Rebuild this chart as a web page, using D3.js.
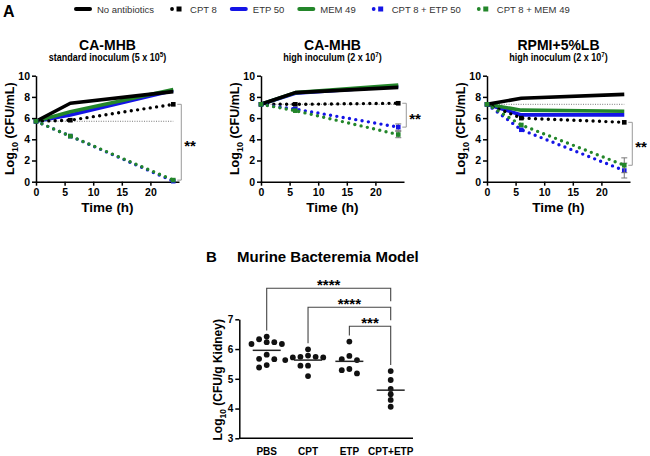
<!DOCTYPE html>
<html>
<head>
<meta charset="utf-8">
<script src="https://cdn.jsdelivr.net/npm/d3@7"></script>
<style>
  body { margin: 0; background: #fff; }
  svg { font-family: "Liberation Sans", Arial, Helvetica, sans-serif; }
</style>
</head>
<body>
<div id="chart"></div>
<script>
// ---------- data ----------
var seriesNames = ["No antibiotics", "CPT 8", "ETP 50", "MEM 49", "CPT 8 + ETP 50", "CPT 8 + MEM 49"];
var seriesColors = ["#000000", "#000000", "#1414e6", "#23862a", "#1414e6", "#23862a"];
var seriesDotted = [false, true, false, false, true, true];
var drawOrder = [2, 3, 0, 1, 4, 5];
var times = [0, 6, 24];
var timeTicks = [0, 5, 10, 15, 20];
var logTicks = [0, 2, 4, 6, 8, 10];

var panelTitles = ["CA-MHB", "CA-MHB", "RPMI+5%LB"];
var inoculumText = ["standard inoculum (5 x 10", "high inoculum (2 x 10", "high inoculum (2 x 10"];
var inoculumExp = ["5", "7", "7"];
var startLevels = [5.7, 7.3, 7.3];

// rows follow seriesNames, columns follow times
var mhbStdValues = [
  [5.7, 7.4, 8.5],
  [5.7, 5.8, 7.3],
  [5.7, 6.3, 8.6],
  [5.7, 6.6, 8.7],
  [5.7, 4.3, 0.05],
  [5.7, 4.3, 0.15]
];
var mhbHighValues = [
  [7.3, 8.4, 8.9],
  [7.3, 7.3, 7.4],
  [7.3, 8.35, 9.0],
  [7.3, 8.4, 9.12],
  [7.3, 6.85, 5.15],
  [7.3, 6.7, 4.45]
];
var rpmiValues = [
  [7.3, 7.87, 8.24],
  [7.3, 6.0, 5.6],
  [7.3, 6.3, 6.3],
  [7.3, 6.75, 6.65],
  [7.3, 4.9, 1.05],
  [7.3, 5.35, 1.55]
];
// SD at 24 h, one per series
var mhbStdErr = [0, 0, 0, 0, 0, 0];
var mhbHighErr = [0, 0, 0, 0, 0.3, 0.3];
var rpmiErr = [0, 0, 0, 0, 0.7, 0.7];
// significance bracket: [upper series, lower series]
var bracketPairs = [[1, 5], [1, 4], [1, 5]];
var bracketLabels = ["**", "**", "**"];

// panel B
var groups = ["PBS", "CPT", "ETP", "CPT+ETP"];
var pbsValues = [6.42, 6.33, 6.17, 6.17, 6.23, 6.23, 5.81, 5.66, 5.67, 5.38, 5.46];
var cptValues = [5.99, 5.74, 5.72, 5.72, 5.74, 5.78, 5.63, 5.44, 5.44, 5.09];
var etpValues = [6.25, 5.66, 5.63, 5.77, 5.18, 5.33, 5.29];
var cptEtpValues = [5.26, 4.96, 4.66, 4.48, 4.29, 4.06];
var kidneyTicks = [3, 4, 5, 6, 7];
var compFrom = ["PBS", "CPT", "ETP"];
var compTo = ["CPT+ETP", "CPT+ETP", "CPT+ETP"];
var compLabels = ["****", "****", "***"];

var panelValues = [mhbStdValues, mhbHighValues, rpmiValues];
var panelErrors = [mhbStdErr, mhbHighErr, rpmiErr];
var groupValues = [pbsValues, cptValues, etpValues, cptEtpValues];

// ---------- layout ----------
var svg = d3.select("#chart")
    .append("svg")
    .attr("width", 650)
    .attr("height", 456);

var panelLeft = [36, 261, 487];
var plotW = 143, plotTop = 75.7, plotBottom = 181.7;

function styleAxis(g, size) {
    g.select(".domain").attr("stroke", "#000").attr("stroke-width", 1.5);
    g.selectAll(".tick line").attr("stroke", "#000").attr("stroke-width", 1.5);
    g.selectAll(".tick text")
        .attr("font-size", size)
        .attr("font-weight", "bold")
        .attr("fill", "#000")
        .attr("font-family", null);
}

// panel letter A
svg.append("text").attr("x", 3).attr("y", 17)
    .attr("font-size", 16).attr("font-weight", "bold").text("A");

// legend
var legend = svg.append("g");
var cursor = 75;
seriesNames.forEach(function (name, i) {
    var item = legend.append("g").attr("transform", "translate(" + cursor + ",9)");
    if (seriesDotted[i]) {
        item.append("circle").attr("cx", 4).attr("cy", 0).attr("r", 1.9).attr("fill", seriesColors[i]);
        item.append("rect").attr("x", 8.5).attr("y", -2.5).attr("width", 5).attr("height", 5).attr("fill", seriesColors[i]);
    } else {
        item.append("line").attr("x1", 1).attr("x2", 15).attr("y1", 0).attr("y2", 0)
            .attr("stroke", seriesColors[i]).attr("stroke-width", 4).attr("stroke-linecap", "round");
    }
    var t = item.append("text").attr("x", 22).attr("y", 3.5)
        .attr("font-size", 9.5).attr("fill", "#333").text(name);
    cursor += 22 + t.node().getComputedTextLength() + 14;
});

// time-kill panels
panelLeft.forEach(function (left, p) {
    var x = d3.scaleLinear().domain([0, 25]).range([left, left + plotW]);
    var y = d3.scaleLinear().domain([0, 10]).range([plotBottom, plotTop]);
    var g = svg.append("g");
    var cx = left + plotW / 2;

    g.append("text").attr("x", cx).attr("y", 50)
        .attr("text-anchor", "middle").attr("font-size", 14).attr("font-weight", "bold")
        .text(panelTitles[p]);
    var sub = g.append("text")
        .attr("transform", "translate(" + cx + ",61) scale(0.9,1)")
        .attr("text-anchor", "middle").attr("font-size", 10).attr("font-weight", "bold");
    sub.append("tspan").text(inoculumText[p]);
    sub.append("tspan").attr("dy", -4).attr("font-size", 7).text(inoculumExp[p]);
    sub.append("tspan").attr("dy", 4).text(")");

    var xAxis = g.append("g").attr("transform", "translate(0," + plotBottom + ")")
        .call(d3.axisBottom(x).tickValues(timeTicks).tickSize(4).tickSizeOuter(0).tickPadding(3));
    styleAxis(xAxis, 10.5);
    var yAxis = g.append("g").attr("transform", "translate(" + left + ",0)")
        .call(d3.axisLeft(y).tickValues(logTicks).tickSize(4).tickSizeOuter(0).tickPadding(2));
    styleAxis(yAxis, 10.5);

    g.append("text").attr("x", cx).attr("y", 212)
        .attr("text-anchor", "middle").attr("font-size", 13.5).attr("font-weight", "bold")
        .text("Time (h)");
    var yl = g.append("text")
        .attr("transform", "translate(" + (left - 22) + "," + ((plotTop + plotBottom) / 2) + ") rotate(-90)")
        .attr("text-anchor", "middle").attr("font-size", 12.5).attr("font-weight", "bold");
    yl.append("tspan").text("Log");
    yl.append("tspan").attr("dy", 4).attr("font-size", 9).text("10");
    yl.append("tspan").attr("dy", -4).text(" (CFU/mL)");

    // starting inoculum reference
    g.append("line")
        .attr("x1", x(0)).attr("x2", x(24))
        .attr("y1", y(startLevels[p])).attr("y2", y(startLevels[p]))
        .attr("stroke", "#555").attr("stroke-width", 0.8).attr("stroke-dasharray", "1,1.4");

    var line = d3.line()
        .x(function (d, i) { return x(times[i]); })
        .y(function (d) { return y(d); });

    var vals = panelValues[p];
    var errs = panelErrors[p];
    drawOrder.forEach(function (s) {
        var col = seriesColors[s];
        if (errs[s] > 0) {
            var v = vals[s][times.length - 1], tx = x(times[times.length - 1]);
            g.append("line").attr("x1", tx).attr("x2", tx)
                .attr("y1", y(v - errs[s])).attr("y2", y(v + errs[s]))
                .attr("stroke", "#777").attr("stroke-width", 1);
            [v - errs[s], v + errs[s]].forEach(function (e) {
                g.append("line").attr("x1", tx - 3).attr("x2", tx + 3)
                    .attr("y1", y(e)).attr("y2", y(e))
                    .attr("stroke", "#777").attr("stroke-width", 1);
            });
        }
        var path = g.append("path")
            .datum(vals[s])
            .attr("d", line)
            .attr("fill", "none")
            .attr("stroke", col);
        if (seriesDotted[s]) {
            path.attr("stroke-width", 3.4).attr("stroke-linecap", "round").attr("stroke-dasharray", "0,6.4");
            // square markers only show on the dotted series
            g.selectAll(null)
                .data(vals[s])
                .enter().append("rect")
                .attr("x", function (d, i) { return x(times[i]) - 2.3; })
                .attr("y", function (d) { return y(d) - 2.3; })
                .attr("width", 4.6).attr("height", 4.6)
                .attr("fill", col);
        } else {
            path.attr("stroke-width", 3.6).attr("stroke-linejoin", "round");
        }
    });

    // significance bracket
    var last = times.length - 1;
    var top = vals[bracketPairs[p][0]][last], bottom = vals[bracketPairs[p][1]][last];
    var bx = x(25.4), ex = x(24) + 4;
    g.append("path")
        .attr("d", "M" + ex + "," + y(top) + "H" + bx + "V" + y(bottom) + "H" + ex)
        .attr("fill", "none").attr("stroke", "#999").attr("stroke-width", 1);
    g.append("text").attr("x", bx + 3).attr("y", (y(top) + y(bottom)) / 2 + 8.5)
        .attr("font-size", 15).attr("font-weight", "bold").text(bracketLabels[p]);
});

// ---------- panel B ----------
var bx0 = 239.3, bx1 = 413, byTop = 319.3, byBottom = 438.3;
var gx = d3.scalePoint().domain(groups).range([266.7, 390.7]);
var gy = d3.scaleLinear().domain([3, 7]).range([byBottom, byTop]);
var gB = svg.append("g");

gB.append("text").attr("x", 206).attr("y", 262)
    .attr("font-size", 15).attr("font-weight", "bold").text("B");
gB.append("text").attr("x", 237).attr("y", 262)
    .attr("font-size", 15).attr("font-weight", "bold").text("Murine Bacteremia Model");

var kyAxis = gB.append("g").attr("transform", "translate(" + bx0 + ",0)")
    .call(d3.axisLeft(gy).tickValues(kidneyTicks).tickFormat(d3.format("d"))
        .tickSize(4).tickSizeOuter(0).tickPadding(2));
styleAxis(kyAxis, 10);
gB.append("line").attr("x1", bx0).attr("x2", bx1).attr("y1", byBottom).attr("y2", byBottom)
    .attr("stroke", "#000").attr("stroke-width", 1.5);
gB.selectAll(null).data(groups).enter().append("text")
    .attr("x", function (d) { return gx(d); })
    .attr("y", 455)
    .attr("text-anchor", "middle").attr("font-size", 10).attr("font-weight", "bold")
    .text(function (d) { return d; });

var kl = gB.append("text")
    .attr("transform", "translate(222," + ((byTop + byBottom) / 2 + 1) + ") rotate(-90)")
    .attr("text-anchor", "middle").attr("font-size", 12).attr("font-weight", "bold");
kl.append("tspan").text("Log");
kl.append("tspan").attr("dy", 4).attr("font-size", 8.5).text("10");
kl.append("tspan").attr("dy", -4).text(" (CFU/g Kidney)");

// simple beeswarm placement
function swarm(values, cx) {
    var step = 7.6, minD = 5.2, placed = [];
    values.slice().sort(function (a, b) { return b - a; }).forEach(function (v) {
        var yy = gy(v);
        for (var k = 0; k < 20; k++) {
            var off = (k % 2 === 1 ? -1 : 1) * Math.ceil(k / 2) * step;
            var xx = cx + off;
            var hit = placed.some(function (q) {
                return (q.x - xx) * (q.x - xx) + (q.y - yy) * (q.y - yy) < minD * minD;
            });
            if (!hit) { placed.push({ x: xx, y: yy }); break; }
        }
    });
    return placed;
}

groups.forEach(function (grp, i) {
    var cx = gx(grp);
    var pts = swarm(groupValues[i], cx);
    gB.selectAll(null).data(pts).enter().append("circle")
        .attr("cx", function (d) { return d.x; })
        .attr("cy", function (d) { return d.y; })
        .attr("r", 2.9).attr("fill", "#111");
    var m = d3.mean(groupValues[i]);
    gB.append("line").attr("x1", cx - 14).attr("x2", cx + 14)
        .attr("y1", gy(m)).attr("y2", gy(m))
        .attr("stroke", "#222").attr("stroke-width", 1.5);
});

// significance brackets
var levelY = compLabels.map(function (d, i) { return gy(7) - 31 + i * 19; });
compLabels.forEach(function (lab, i) {
    var x1 = gx(compFrom[i]), x2 = gx(compTo[i]), ly = levelY[i];
    var leftEnd = gy(d3.max(groupValues[groups.indexOf(compFrom[i])])) - 6;
    var rightEnd = i === compLabels.length - 1
        ? gy(d3.max(groupValues[groups.indexOf(compTo[i])])) - 6
        : levelY[i + 1] - 6;
    gB.append("path")
        .attr("d", "M" + x1 + "," + leftEnd + "V" + ly + "H" + x2 + "V" + rightEnd)
        .attr("fill", "none").attr("stroke", "#444").attr("stroke-width", 1.1);
    gB.append("text").attr("x", (x1 + x2) / 2).attr("y", ly + 1.5)
        .attr("text-anchor", "middle").attr("font-size", 15).attr("font-weight", "bold")
        .text(lab);
});
</script>
</body>
</html>
